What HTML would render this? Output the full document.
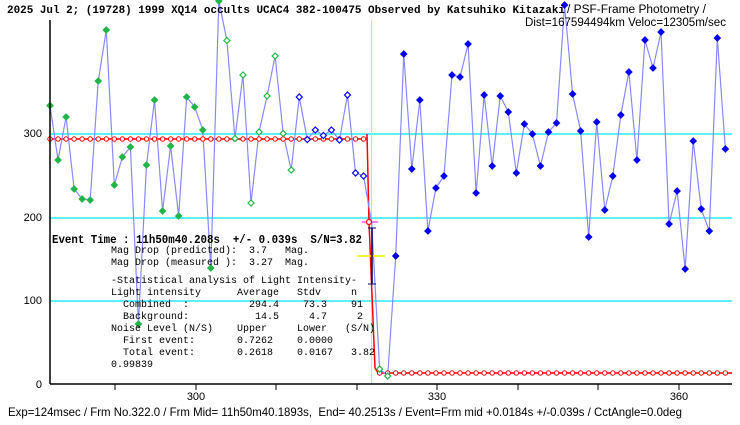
<!DOCTYPE html>
<html><head><meta charset="utf-8"><style>
body{margin:0;background:#fff;}
svg{display:block}
text{font-family:"Liberation Mono","Noto Sans CJK JP",monospace;white-space:pre;}
.p{font-family:"Liberation Sans","Noto Sans CJK JP",sans-serif;}
</style></head><body>
<svg id="s" width="740" height="425" viewBox="0 0 740 425" xmlns="http://www.w3.org/2000/svg">
<rect width="740" height="425" fill="#fff"/>
<line x1="50" y1="134" x2="732" y2="134" stroke="#00e5ff" stroke-width="1.3"/>
<line x1="50" y1="218" x2="732" y2="218" stroke="#00e5ff" stroke-width="1.3"/>
<line x1="50" y1="301" x2="732" y2="301" stroke="#00e5ff" stroke-width="1.3"/>
<line x1="371.5" y1="20" x2="371.5" y2="384" stroke="#f0f000" stroke-width="1"/>
<g id="data"></g>
<line x1="50" y1="20" x2="50" y2="384" stroke="#000" stroke-width="1.5"/>
<line x1="50" y1="384" x2="732" y2="384" stroke="#000" stroke-width="1.5"/>
<g stroke="#000" stroke-width="1">
<line x1="115" y1="384" x2="115" y2="390"/><line x1="196" y1="384" x2="196" y2="390"/><line x1="276" y1="384" x2="276" y2="390"/><line x1="357" y1="384" x2="357" y2="390"/><line x1="437" y1="384" x2="437" y2="390"/><line x1="518" y1="384" x2="518" y2="390"/><line x1="598" y1="384" x2="598" y2="390"/><line x1="679" y1="384" x2="679" y2="390"/>
</g>
<g font-size="11" text-anchor="end">
<text x="42" y="137" class="p">300</text><text x="42" y="221" class="p">200</text><text x="42" y="304" class="p">100</text><text x="42" y="388" class="p">0</text>
</g>
<g font-size="11" text-anchor="middle">
<text x="196" y="400" class="p">300</text><text x="437" y="400" class="p">330</text><text x="679" y="400" class="p">360</text>
</g>
<text x="7" y="13" font-size="11.4" font-weight="bold" textLength="558" lengthAdjust="spacingAndGlyphs">2025 Jul 2; (19728) 1999 XQ14 occults UCAC4 382-100475 Observed by Katsuhiko Kitazaki</text>
<text x="567" y="13" font-size="11.5" class="p" textLength="139" lengthAdjust="spacingAndGlyphs">/ PSF-Frame Photometry /</text>
<text x="525" y="26" font-size="11.5" class="p" textLength="201" lengthAdjust="spacingAndGlyphs">Dist=167594494km Veloc=12305m/sec</text>
<text x="52" y="243" font-size="11.5" font-weight="bold" textLength="310" lengthAdjust="spacingAndGlyphs">Event Time : 11h50m40.208s  +/- 0.039s  S/N=3.82</text>
<g font-size="10">
<text x="111" y="253">Mag Drop (predicted):  3.7   Mag.</text>
<text x="111" y="265">Mag Drop (measured ):  3.27  Mag.</text>
<text x="111" y="283">-Statistical analysis of Light Intensity-</text>
<text x="111" y="295">Light intensity      Average   Stdv     n</text>
<text x="111" y="307">  Combined  :          294.4    73.3    91</text>
<text x="111" y="319">  Background:           14.5     4.7     2</text>
<text x="111" y="331">Noise Level (N/S)    Upper     Lower   (S/N)</text>
<text x="111" y="343">  First event:       0.7262    0.0000</text>
<text x="111" y="355">  Total event:       0.2618    0.0167   3.82</text>
<text x="111" y="367">0.99839</text>
</g>
<text x="8" y="416" font-size="11.6" class="p" textLength="674" lengthAdjust="spacingAndGlyphs">Exp=124msec / Frm No.322.0 / Frm Mid= 11h50m40.1893s,  End= 40.2513s / Event=Frm mid +0.0184s +/-0.039s / CctAngle=0.0deg</text>
</svg>
<script>
(function(){
var ns="http://www.w3.org/2000/svg",g=document.getElementById("data");
function el(t,a){var e=document.createElementNS(ns,t);for(var k in a)e.setAttribute(k,a[k]);g.appendChild(e);return e;}
var ys=[105.6,160,117,189,199,200,81,30,185,157,147,324,165,100,211,146,216,97,107,130,268,1,40.5,138.5,75,203,132,96,56,133.5,170,97,139.5,130,135.5,130,140,95,173,176,222,369,376,
256,54,169,100,231,188,176,75,77,44,193,95,166,96,112,173,124,134,166,132,123,5,94,131,237,122,210,176,115,72,160,40,68,32,224,191,269,141,209,231,38,149];
function X(i){return 50+i*8.04;}
var pts=ys.map(function(y,i){return X(i)+","+y}).join(" ");
var r1="50,139 367,139 367,134 369,222 375,368 378,373 732,373";
el("polyline",{points:r1,fill:"none",stroke:"#ff0000","stroke-width":1.5});
el("polyline",{points:pts,fill:"none",stroke:"#8a8aff","stroke-width":1.2});
for(var i=0;i<85;i++){var x=X(i);if(x>366&&x<378)continue;el("circle",{cx:x,cy:i<41?139:373,r:2.2,fill:"#fff",stroke:"#ff0000","stroke-width":1});}
el("line",{x1:357,y1:256,x2:385,y2:256,stroke:"#f0f000","stroke-width":1.5});
el("line",{x1:372,y1:228,x2:372,y2:284,stroke:"#000050","stroke-width":1.5});
el("line",{x1:368,y1:228,x2:376,y2:228,stroke:"#000050","stroke-width":1});
el("line",{x1:368,y1:284,x2:376,y2:284,stroke:"#000050","stroke-width":1});
el("line",{x1:362,y1:222,x2:378,y2:222,stroke:"#ff00ff","stroke-width":1});
el("circle",{cx:369,cy:222,r:2.5,fill:"#fff",stroke:"#ff0000","stroke-width":1.2});
function dia(x,y,c,fill){var d=3;el("polygon",{points:(x-d)+","+y+" "+x+","+(y-d)+" "+(x+d)+","+y+" "+x+","+(y+d),fill:fill?c:"#fff",stroke:c,"stroke-width":1.2});}
ys.forEach(function(y,i){var x=X(i);if(i==40)return;
 if(i<22)dia(x,y,"#22b44a",1);else if(i<31)dia(x,y,"#22b44a",0);else if(i<40)dia(x,y,"#0000ee",0);else if(i<43)dia(x,y,"#22b44a",0);else dia(x,y,"#0000ee",1);});
})();
</script>
</body></html>
